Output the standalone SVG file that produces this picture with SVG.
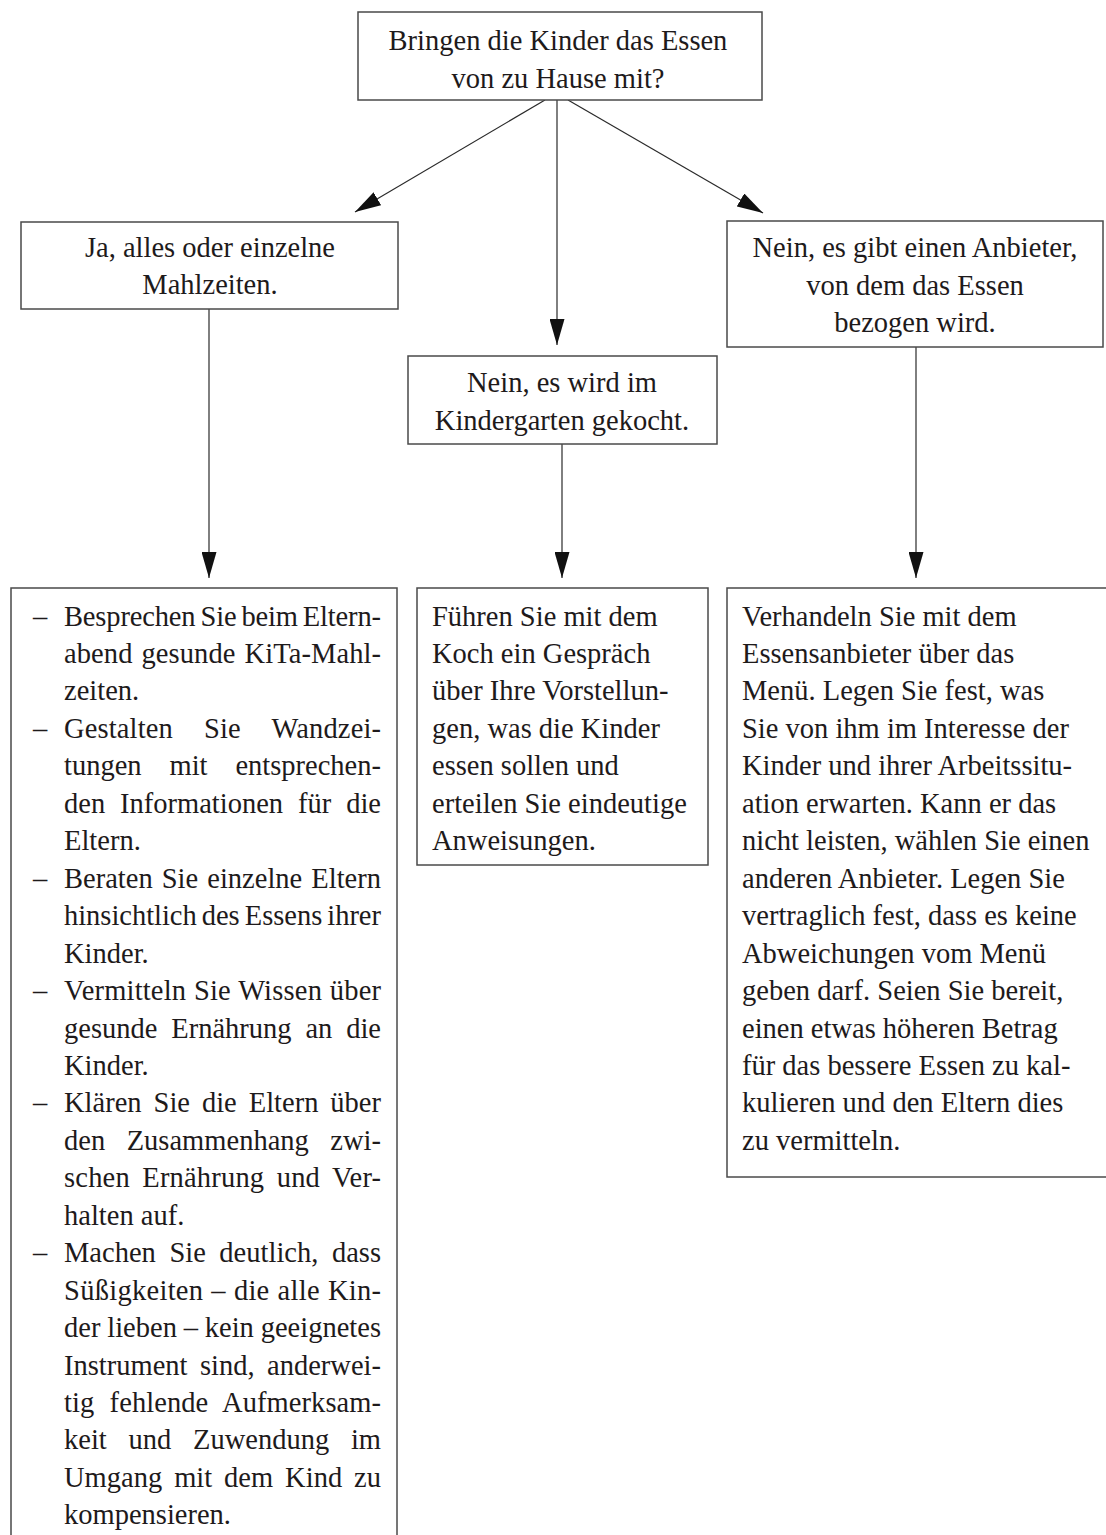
<svg xmlns="http://www.w3.org/2000/svg" width="1106" height="1535" viewBox="0 0 1106 1535">
<style>
.box{fill:#fff;stroke:#4a4a4a;stroke-width:1.5}
.t{font-family:"Liberation Serif","Times New Roman",serif;font-size:28.5px;fill:#1e1a1b}
.c{text-anchor:middle}
.edge{stroke:#2a2a2a;stroke-width:1.2;fill:none;marker-end:url(#ah)}
</style>
<defs>
<marker id="ah" markerUnits="userSpaceOnUse" markerWidth="27" markerHeight="15" refX="26" refY="7.5" orient="auto">
<path d="M0,0 L26,7.5 L0,15 z" fill="#111"/>
</marker>
</defs>
<rect width="1106" height="1535" fill="#fff"/>
<g id="connectors">
<line class="edge" x1="545" y1="100" x2="355" y2="212"/>
<line class="edge" x1="557" y1="100" x2="557" y2="345"/>
<line class="edge" x1="568" y1="100" x2="763" y2="213"/>
<line class="edge" x1="209" y1="309" x2="209" y2="578"/>
<line class="edge" x1="562" y1="444" x2="562" y2="578"/>
<line class="edge" x1="916" y1="347" x2="916" y2="578"/>
</g>
<g id="q">
<rect class="box" x="358" y="12" width="404" height="88"/>
<text class="t c" x="558" y="50">Bringen die Kinder das Essen</text>
<text class="t c" x="558" y="88">von zu Hause mit?</text>
</g>
<g id="ja">
<rect class="box" x="21" y="222" width="377" height="87"/>
<text class="t c" x="210" y="257">Ja, alles oder einzelne</text>
<text class="t c" x="210" y="294">Mahlzeiten.</text>
</g>
<g id="kita">
<rect class="box" x="408" y="356" width="309" height="88"/>
<text class="t c" x="562" y="392">Nein, es wird im</text>
<text class="t c" x="562" y="430">Kindergarten gekocht.</text>
</g>
<g id="anbieter">
<rect class="box" x="727" y="221" width="376" height="126"/>
<text class="t c" x="915" y="257">Nein, es gibt einen Anbieter,</text>
<text class="t c" x="915" y="294.5">von dem das Essen</text>
<text class="t c" x="915" y="332">bezogen wird.</text>
</g>
<g id="tipps-ja">
<rect class="box" x="11" y="588" width="386" height="960"/>
<g class="t">
<text x="33" y="625.5">–</text>
<text x="33" y="737.9">–</text>
<text x="33" y="887.7">–</text>
<text x="33" y="1000">–</text>
<text x="33" y="1112.4">–</text>
<text x="33" y="1262.2">–</text>
<text x="64" y="625.5" word-spacing="-2" textLength="317" lengthAdjust="spacing">Besprechen Sie beim Eltern-</text>
<text x="64" y="663" word-spacing="1.8" textLength="317" lengthAdjust="spacing">abend gesunde KiTa-Mahl-</text>
<text x="64" y="700.4">zeiten.</text>
<text x="64" y="737.9" word-spacing="23.9" textLength="317" lengthAdjust="spacing">Gestalten Sie Wandzei-</text>
<text x="64" y="775.3" word-spacing="20.8" textLength="317" lengthAdjust="spacing">tungen mit entsprechen-</text>
<text x="64" y="812.8" word-spacing="7.8" textLength="317" lengthAdjust="spacing">den Informationen für die</text>
<text x="64" y="850.2">Eltern.</text>
<text x="64" y="887.7" word-spacing="2" textLength="317" lengthAdjust="spacing">Beraten Sie einzelne Eltern</text>
<text x="64" y="925.1" word-spacing="-2" textLength="317" lengthAdjust="spacing">hinsichtlich des Essens ihrer</text>
<text x="64" y="962.6">Kinder.</text>
<text x="64" y="1000" word-spacing="0.4" textLength="317" lengthAdjust="spacing">Vermitteln Sie Wissen über</text>
<text x="64" y="1037.5" word-spacing="6.7" textLength="317" lengthAdjust="spacing">gesunde Ernährung an die</text>
<text x="64" y="1074.9">Kinder.</text>
<text x="64" y="1112.4" word-spacing="4.8" textLength="317" lengthAdjust="spacing">Klären Sie die Eltern über</text>
<text x="64" y="1149.8" word-spacing="14.4" textLength="317" lengthAdjust="spacing">den Zusammenhang zwi-</text>
<text x="64" y="1187.3" word-spacing="5.1" textLength="317" lengthAdjust="spacing">schen Ernährung und Ver-</text>
<text x="64" y="1224.7">halten auf.</text>
<text x="64" y="1262.2" word-spacing="6.4" textLength="317" lengthAdjust="spacing">Machen Sie deutlich, dass</text>
<text x="64" y="1299.6" word-spacing="0.6" textLength="317" lengthAdjust="spacing">Süßigkeiten – die alle Kin-</text>
<text x="64" y="1337.1" word-spacing="-0.3" textLength="317" lengthAdjust="spacing">der lieben – kein geeignetes</text>
<text x="64" y="1374.5" word-spacing="5.3" textLength="317" lengthAdjust="spacing">Instrument sind, anderwei-</text>
<text x="64" y="1412" word-spacing="8.1" textLength="317" lengthAdjust="spacing">tig fehlende Aufmerksam-</text>
<text x="64" y="1449.4" word-spacing="14.6" textLength="317" lengthAdjust="spacing">keit und Zuwendung im</text>
<text x="64" y="1486.9" word-spacing="4.8" textLength="317" lengthAdjust="spacing">Umgang mit dem Kind zu</text>
<text x="64" y="1524.3">kompensieren.</text>
</g>
</g>
<g id="tipps-kita">
<rect class="box" x="417" y="588" width="291" height="277"/>
<g class="t">
<text x="432" y="625.5">Führen Sie mit dem</text>
<text x="432" y="663">Koch ein Gespräch</text>
<text x="432" y="700.4">über Ihre Vorstellun-</text>
<text x="432" y="737.9">gen, was die Kinder</text>
<text x="432" y="775.3">essen sollen und</text>
<text x="432" y="812.8">erteilen Sie eindeutige</text>
<text x="432" y="850.2">Anweisungen.</text>
</g>
</g>
<g id="tipps-anbieter">
<rect class="box" x="727" y="588" width="400" height="589"/>
<g class="t">
<text x="742" y="625.5">Verhandeln Sie mit dem</text>
<text x="742" y="663">Essensanbieter über das</text>
<text x="742" y="700.4">Menü. Legen Sie fest, was</text>
<text x="742" y="737.9">Sie von ihm im Interesse der</text>
<text x="742" y="775.3">Kinder und ihrer Arbeitssitu-</text>
<text x="742" y="812.8">ation erwarten. Kann er das</text>
<text x="742" y="850.2">nicht leisten, wählen Sie einen</text>
<text x="742" y="887.7">anderen Anbieter. Legen Sie</text>
<text x="742" y="925.1">vertraglich fest, dass es keine</text>
<text x="742" y="962.6">Abweichungen vom Menü</text>
<text x="742" y="1000">geben darf. Seien Sie bereit,</text>
<text x="742" y="1037.5">einen etwas höheren Betrag</text>
<text x="742" y="1074.9">für das bessere Essen zu kal-</text>
<text x="742" y="1112.4">kulieren und den Eltern dies</text>
<text x="742" y="1149.8">zu vermitteln.</text>
</g>
</g>
</svg>
